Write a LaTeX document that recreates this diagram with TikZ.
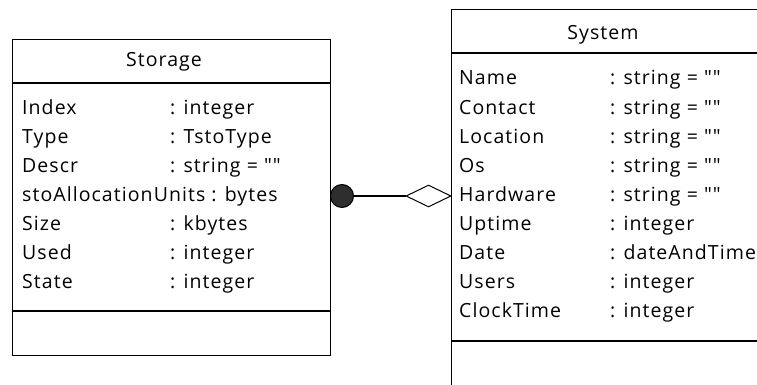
\documentclass[tikz,border=0pt]{standalone}
\usepackage{fontspec}
\newfontfamily\umlfont{Open Sans}[LetterSpace=5.5]
\usetikzlibrary{shapes.geometric}
\begin{document}
\begin{tikzpicture}[x=1pt,y=-1pt,
  classbox/.style={draw=black,line width=1pt,rectangle,inner sep=0pt,anchor=north west},
  sepline/.style={line width=1.6pt},
  txt/.style={inner sep=0pt,font=\umlfont\fontsize{19.5}{21}\selectfont},
  attr/.style={txt,anchor=base west},
  ttl/.style={txt,anchor=base},
  link/.style={line width=1.6pt}]
\useasboundingbox (0,0) rectangle (757,385);
\clip (0,0) rectangle (757,385);
% Storage class
\node[classbox,minimum width=318pt,minimum height=316pt] (storage) at (12,39) {};
\draw[sepline] (12,83) -- (330,83);
\draw[sepline] (12,311) -- (330,311);
\node[ttl] (storagetitle) at (164,67) {Storage};
\foreach \n/\t [count=\i from 0] in {Index/{: integer},Type/{: TstoType},Descr/{: string = ""},Size/{: kbytes},Used/{: integer},State/{: integer}}{
  \pgfmathsetmacro{\k}{\i<3 ? \i : \i+1}
  \node[attr] (sn\i) at (22,115+28.85*\k) {\n};
  \node[attr] (st\i) at (170,115+28.85*\k) {\t};
}
\node[attr] (salloc) at (22,115+28.85*3) {stoAllocationUnits : bytes};
% System class
\node[classbox,minimum width=330pt,minimum height=400pt] (system) at (451,9) {};
\draw[sepline] (451,53) -- (770,53);
\draw[sepline] (451,341) -- (770,341);
\node[ttl] (systemtitle) at (603,40) {System};
\foreach \n/\t [count=\i from 0] in {Name/{: string = ""},Contact/{: string = ""},Location/{: string = ""},Os/{: string = ""},Hardware/{: string = ""},Uptime/{: integer},Date/{: dateAndTime},Users/{: integer},ClockTime/{: integer}}{
  \node[attr] (yn\i) at (459,85+29*\i) {\n};
  \node[attr] (yt\i) at (610,85+29*\i) {\t};
}
% association
\node[circle,draw=black,fill=black!82,line width=1pt,minimum size=23pt,inner sep=0pt] (dot) at (342,196) {};
\node[diamond,draw=black,fill=white,line width=1pt,minimum width=45pt,minimum height=22pt,inner sep=0pt] (dia) at (428.5,196) {};
\draw[link] (dot) -- (dia);
\end{tikzpicture}
\end{document}
